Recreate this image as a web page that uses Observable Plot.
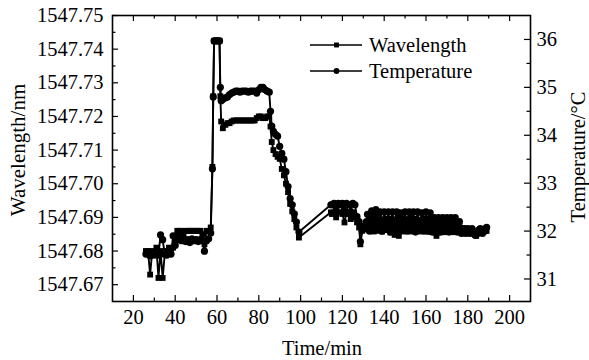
<!DOCTYPE html>
<html>
<head>
<meta charset="utf-8">
<script src="https://cdn.jsdelivr.net/npm/d3@7"></script>
<script src="https://cdn.jsdelivr.net/npm/@observablehq/plot@0.6"></script>
<style>
  body { margin: 0; background: #fff; }
  #chart svg { font-family: "Liberation Serif", "Times New Roman", serif; }
</style>
</head>
<body>
<div id="chart"></div>
<script>
// Sampling times (min)
const time = [
  26,27,28,29,30,31,32,33,34,35,36,37,38,39,40,41,42,43,44,45,46,47,48,49,50,51,52,53,54,55,56,57,
  57.8,58.2,58.6,59.5,60.5,61.2,61.6,62,62.8,64,65,66,67,68,69,70,71,72,73,74,75,76,77,78,79,80,81,82,83,84,85,
  85.6,86.2,87,88,89,90,91,92,93,94,95,96,97,98,99.2,
  114.5,115,116,117,118,119,120,121,122,123,124,125,126,127,128,128.6,129.5,130,
  131,131.5,132,132.5,133,133.5,134,134.5,135,135.5,
  136,136.5,137,137.5,138,138.5,139,139.5,140,140.5,
  141,141.5,142,142.5,143,143.5,144,144.5,145,145.5,
  146,146.5,147,147.5,148,148.5,149,149.5,150,150.5,
  151,151.5,152,152.5,153,153.5,154,154.5,155,155.5,
  156,156.5,157,157.5,158,158.5,159,159.5,160,160.5,
  161,161.5,162,162.5,163,163.5,164,164.5,165,165.5,
  166,166.5,167,167.5,168,168.5,169,169.5,170,170.5,
  171,171.5,172,172.5,173,173.5,174,174.5,175,175.5,
  176,176.5,177,177.5,178,178.5,179,179.5,180,180.5,
  181,181.5,182,182.5,183,183.5,184,184.5,185,185.5,
  186,186.5,187,187.5,188,188.5,189
];

// Bragg wavelength (nm)
const wavelength = [
  1547.680,1547.680,1547.673,1547.680,1547.679,1547.681,1547.672,1547.680,1547.672,1547.679,1547.680,1547.681,1547.680,1547.681,1547.684,1547.686,
  1547.686,1547.686,1547.685,1547.686,1547.686,1547.686,1547.686,1547.686,1547.686,1547.686,1547.686,1547.685,1547.682,1547.686,1547.686,1547.687,
  1547.705,1547.726,1547.7425,1547.7425,1547.7425,1547.7425,1547.726,1547.7185,1547.7165,1547.7175,1547.718,1547.718,1547.7185,1547.7188,1547.7188,
  1547.7188,1547.7188,1547.7188,1547.7188,1547.7188,1547.7188,1547.7188,1547.7188,1547.7188,1547.7195,1547.720,1547.720,1547.7195,1547.7195,1547.720,1547.720,
  1547.717,1547.7124,1547.710,1547.7088,1547.708,1547.7074,1547.7044,1547.7025,1547.700,1547.6975,1547.694,1547.6918,1547.6895,1547.687,1547.684,
  1547.6915,1547.691,1547.6915,1547.690,1547.6915,1547.6915,1547.691,1547.6885,1547.6915,1547.691,1547.6895,1547.6915,1547.690,1547.6885,1547.687,1547.682,1547.686,1547.6875,
  1547.6865,1547.6872,1547.6880,1547.6868,1547.6860,1547.6874,1547.6885,1547.6866,1547.6858,1547.6875,
  1547.6888,1547.6868,1547.6860,1547.6874,1547.6885,1547.6866,1547.6858,1547.6872,1547.6888,1547.6870,
  1547.6862,1547.6874,1547.6885,1547.6866,1547.6855,1547.6872,1547.6888,1547.6864,1547.6848,1547.6870,
  1547.6885,1547.6862,1547.6845,1547.6868,1547.6882,1547.6868,1547.6858,1547.6874,1547.6888,1547.6868,
  1547.6860,1547.6872,1547.6885,1547.6866,1547.6858,1547.6874,1547.6888,1547.6868,1547.6860,1547.6872,
  1547.6885,1547.6866,1547.6858,1547.6874,1547.6888,1547.6868,1547.6860,1547.6872,1547.6885,1547.6866,
  1547.6858,1547.6870,1547.6882,1547.6866,1547.6856,1547.6868,1547.6880,1547.6862,1547.6845,1547.6864,
  1547.6878,1547.6866,1547.6856,1547.6868,1547.6880,1547.6866,1547.6856,1547.6868,1547.6880,1547.6866,
  1547.6858,1547.6868,1547.6878,1547.6866,1547.6856,1547.6868,1547.6880,1547.6866,1547.6858,1547.6866,
  1547.6875,1547.6864,1547.6856,1547.6862,1547.6868,1547.6860,1547.6856,1547.6862,1547.6866,1547.6860,
  1547.6856,1547.6862,1547.6865,1547.6858,1547.6852,1547.6848,1547.6845,1547.6852,1547.6858,1547.6862,
  1547.6864,1547.6858,1547.6856,1547.6858,1547.6860,1547.6860,1547.6860
];

// Temperature (°C)
const temperature = [
  31.52,31.56,31.48,31.54,31.50,31.56,31.50,31.92,31.82,31.52,31.50,31.58,31.52,31.90,31.70,31.82,
  31.88,31.80,31.84,31.78,31.82,31.76,31.84,31.80,31.82,31.78,31.82,31.80,31.58,31.80,31.84,31.96,
  33.30,34.80,35.97,35.97,35.97,35.97,35.00,34.72,34.75,34.78,34.80,34.85,34.88,34.90,34.92,
  34.92,34.90,34.92,34.92,34.92,34.90,34.92,34.92,34.92,34.88,34.95,35.00,35.00,34.95,34.92,34.90,
  34.50,34.19,34.08,34.02,33.98,33.77,33.62,33.50,33.24,32.93,32.68,32.55,32.36,32.19,31.98,
  32.55,32.55,32.58,32.50,32.58,32.55,32.58,32.45,32.58,32.55,32.40,32.58,32.55,32.30,32.20,31.78,32.05,32.10,
  32.05,32.20,32.35,32.15,32.00,32.25,32.42,32.20,32.10,32.30,
  32.45,32.18,32.05,32.28,32.40,32.15,32.00,32.22,32.40,32.25,
  32.05,32.18,32.40,32.20,31.98,32.25,32.40,32.15,32.00,32.22,
  32.40,32.28,32.00,32.15,32.38,32.22,32.02,32.25,32.40,32.18,
  32.00,32.22,32.40,32.28,32.05,32.20,32.40,32.15,31.98,32.25,
  32.40,32.20,32.02,32.22,32.38,32.25,32.00,32.18,32.40,32.22,
  32.00,32.25,32.38,32.15,31.98,32.15,32.28,32.12,31.95,32.15,
  32.28,32.10,31.98,32.18,32.28,32.12,32.00,32.15,32.28,32.10,
  31.98,32.15,32.28,32.12,32.00,32.18,32.28,32.10,31.98,32.10,
  32.20,32.05,31.95,32.00,32.05,31.98,31.95,32.02,32.05,31.98,
  31.95,32.02,32.05,31.98,31.95,31.92,31.92,31.98,32.00,32.03,
  32.05,31.98,31.95,32.00,32.00,32.05,32.08
];

// Axis ticks
const timeTicks = [20, 40, 60, 80, 100, 120, 140, 160, 180, 200];
const timeMinor = [30, 50, 70, 90, 110, 130, 150, 170, 190];
const wavelengthTicks = [1547.67, 1547.68, 1547.69, 1547.70, 1547.71, 1547.72, 1547.73, 1547.74, 1547.75];
const wavelengthMinor = [1547.675, 1547.685, 1547.695, 1547.705, 1547.715, 1547.725, 1547.735, 1547.745];
const temperatureTicks = [31, 32, 33, 34, 35, 36];
const temperatureMinor = [31.5, 32.5, 33.5, 34.5, 35.5];
const seriesNames = ["Wavelength", "Temperature"];

// Layout
const W = 589, H = 360;
const mL = 112, mR = 59, mT = 15, mB = 59;
const pw = W - mL - mR, ph = H - mT - mB;
const wDomain = [1547.665, 1547.75];
const tDomain = [30.53, 36.5];

// Temperature is drawn on the wavelength scale through this linear map
const tempToW = d3.scaleLinear().domain(tDomain).range(wDomain);

const rows = time.map((t, i) => ({
  t,
  w: wavelength[i],
  tw: tempToW(temperature[i])
}));

const major = 6, minor = 3.5;
const tickStyle = {stroke: "#000", strokeWidth: 1.2};
const font = "'Liberation Serif', 'Times New Roman', serif";

const plot = Plot.plot({
  width: W,
  height: H,
  marginLeft: mL,
  marginRight: mR,
  marginTop: mT,
  marginBottom: mB,
  style: {fontFamily: font, fontSize: "20.5px", color: "#000", background: "#fff"},
  x: {domain: [10, 210]},
  y: {domain: wDomain},
  marks: [
    // tick labels
    Plot.axisX(timeTicks, {tickSize: 0, tickPadding: 8, tickFormat: d => String(d), label: null, fontSize: 20.5}),
    Plot.axisY(wavelengthTicks, {anchor: "left", tickSize: 0, tickPadding: 9, tickFormat: d => d.toFixed(2), label: null, fontSize: 20.5}),
    Plot.axisY(temperatureTicks.map(tempToW), {anchor: "right", tickSize: 0, tickPadding: 6, tickFormat: d => String(Math.round(tempToW.invert(d))), label: null, fontSize: 20.5}),
    // inward ticks on all four sides
    Plot.tickX(timeTicks, {x: d => d, insetTop: ph - major, ...tickStyle}),
    Plot.tickX(timeMinor, {x: d => d, insetTop: ph - minor, ...tickStyle}),
    Plot.tickX(timeTicks, {x: d => d, insetBottom: ph - major, ...tickStyle}),
    Plot.tickX(timeMinor, {x: d => d, insetBottom: ph - minor, ...tickStyle}),
    Plot.tickY(wavelengthTicks, {y: d => d, insetRight: pw - major, ...tickStyle}),
    Plot.tickY(wavelengthMinor, {y: d => d, insetRight: pw - minor, ...tickStyle}),
    Plot.tickY(temperatureTicks, {y: d => tempToW(d), insetLeft: pw - major, ...tickStyle}),
    Plot.tickY(temperatureMinor, {y: d => tempToW(d), insetLeft: pw - minor, ...tickStyle}),
    // series
    Plot.line(rows, {x: "t", y: "tw", stroke: "#000", strokeWidth: 1.9}),
    Plot.dot(rows, {x: "t", y: "tw", symbol: "circle", r: 3.6, fill: "#000", stroke: "none"}),
    Plot.line(rows, {x: "t", y: "w", stroke: "#000", strokeWidth: 1.9}),
    Plot.dot(rows, {x: "t", y: "w", symbol: "square", r: 3.3, fill: "#000", stroke: "none"}),
    Plot.frame({stroke: "#000", strokeWidth: 1.6})
  ]
});

const svg = d3.select(plot);

// axis titles
svg.append("text")
  .attr("transform", "translate(18,150) rotate(-90)")
  .attr("text-anchor", "middle").attr("dominant-baseline", "central")
  .attr("font-family", font).attr("font-size", 21).attr("fill", "#000")
  .text("Wavelength/nm");
svg.append("text")
  .attr("transform", "translate(578,157) rotate(-90)")
  .attr("text-anchor", "middle").attr("dominant-baseline", "central")
  .attr("font-family", font).attr("font-size", 20.5).attr("fill", "#000")
  .text("Temperature/°C");
svg.append("text")
  .attr("x", 322).attr("y", 348)
  .attr("text-anchor", "middle").attr("dominant-baseline", "central")
  .attr("font-family", font).attr("font-size", 20.5).attr("fill", "#000")
  .text("Time/min");

// legend
const legend = svg.append("g").attr("text-anchor", "start");
const symbols = [d3.symbolSquare, d3.symbolCircle];
seriesNames.forEach((name, i) => {
  const cy = 45 + i * 26;
  legend.append("line")
    .attr("x1", 310).attr("x2", 362).attr("y1", cy).attr("y2", cy)
    .attr("stroke", "#000").attr("stroke-width", 1.6);
  legend.append("path")
    .attr("transform", `translate(336.5,${cy})`)
    .attr("d", d3.symbol(symbols[i], i === 0 ? 24 : 26)())
    .attr("fill", "#000");
  legend.append("text")
    .attr("x", 369).attr("y", cy)
    .attr("text-anchor", "start")
    .attr("dominant-baseline", "central")
    .attr("font-family", font).attr("font-size", 20.5).attr("fill", "#000")
    .text(name);
});

document.getElementById("chart").append(plot);
</script>
</body>
</html>
